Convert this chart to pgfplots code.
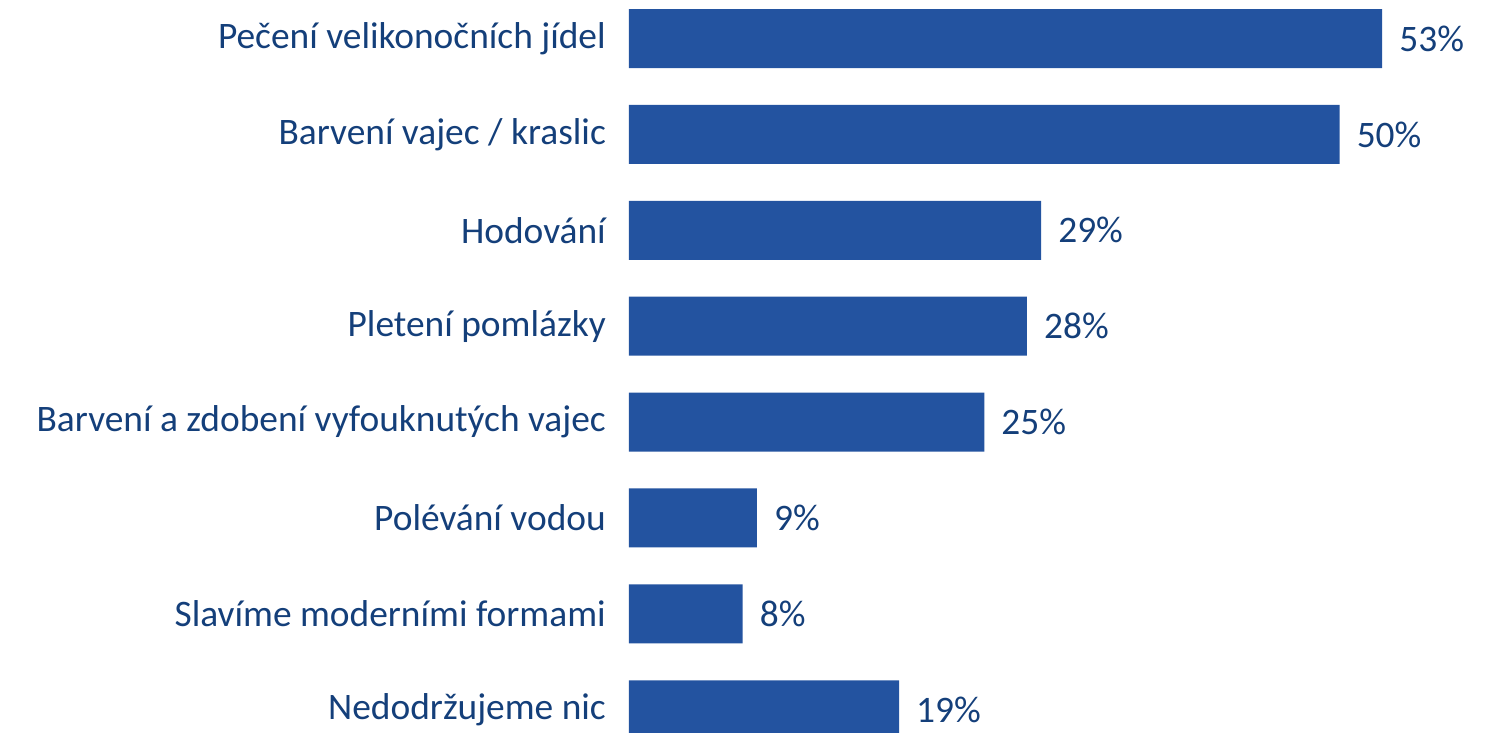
\documentclass[border=0pt]{standalone}
\usepackage{fontspec}
\setmainfont{Carlito}
\usepackage{pgfplots}
\pgfplotsset{compat=1.18}
\definecolor{barblue}{HTML}{2353A0}
\definecolor{txtblue}{HTML}{143F7A}
\begin{document}
\begin{tikzpicture}
\begin{axis}[
 scale only axis, width=874pt, height=733pt,
 xmin=0, xmax=61.5, ymin=-0.4015, ymax=7.242, y dir=reverse,
 xbar, bar width=59pt, bar shift=0pt,
 axis line style={draw=none}, xtick=\empty, ytick={0,...,7}, major tick length=0pt,
 /pgf/number format/assume math mode=true,
 yticklabels={Pečení velikonočních jídel, Barvení vajec / kraslic, Hodování, Pletení pomlázky, Barvení a zdobení vyfouknutých vajec, Polévání vodou, Slavíme moderními formami, Nedodržujeme nic},
 y tick label style={font=\fontsize{37.4}{41}\selectfont, text=txtblue, anchor=east, inner sep=0pt, xshift=-23pt},
 nodes near coords={\pgfmathprintnumber[assume math mode=true]\pgfplotspointmeta\%},
 nodes near coords style={font=\fontsize{37.4}{41}\selectfont, text=txtblue, anchor=west, inner sep=0pt, xshift=17pt},
 point meta=x,
]
\addplot[fill=barblue, draw=none] coordinates {(53,0) (50,1) (29,2) (28,3) (25,4) (9,5) (8,6) (19,7)};
\end{axis}
\pgfresetboundingbox
\useasboundingbox ([xshift=-629pt]current axis.south west) rectangle (current axis.north east);
\end{tikzpicture}
\end{document}
